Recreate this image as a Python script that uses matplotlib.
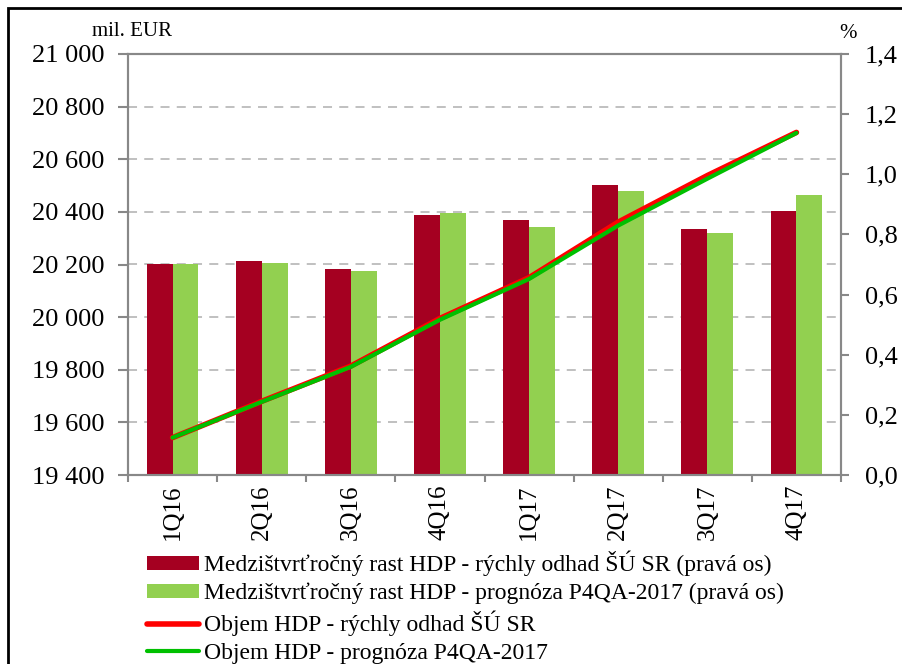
import numpy as np
import matplotlib.pyplot as plt
from matplotlib.patches import Rectangle

plt.rcParams['font.family'] = ['Liberation Serif', 'DejaVu Serif']

# --- data ---
quarters = ['1Q16', '2Q16', '3Q16', '4Q16', '1Q17', '2Q17', '3Q17', '4Q17']
growth_flash = [0.70, 0.71, 0.685, 0.865, 0.848, 0.964, 0.817, 0.878]     # % (right axis)
growth_forecast = [0.70, 0.705, 0.68, 0.872, 0.824, 0.944, 0.806, 0.930]  # % (right axis)
gdp_flash = [19542, 19680, 19814, 19995, 20150, 20361, 20538, 20702]      # mil. EUR
gdp_forecast = [19542, 19678, 19811, 19990, 20145, 20348, 20526, 20700]   # mil. EUR

dark_red = '#A50021'
light_green = '#92D050'
line_red = '#FF0000'
line_green = '#00C000'
spine_grey = '#888888'

fig = plt.figure(figsize=(9.02, 6.64), dpi=100)
W, H = 902, 664
ax = fig.add_axes([128 / W, (H - 475) / H, (841 - 128) / W, (475 - 54) / H])
ax2 = ax.twinx()
ax.set_zorder(2)
ax2.set_zorder(1)
ax.patch.set_visible(False)

x = np.arange(len(quarters))
bw = 0.29

# --- bars on right axis ---
b1 = ax2.bar(x - bw / 2, growth_flash, width=bw, color=dark_red, zorder=2,
             label='Medzištvrťročný rast HDP - rýchly odhad ŠÚ SR (pravá os)')
b2 = ax2.bar(x + bw / 2, growth_forecast, width=bw, color=light_green, zorder=2,
             label='Medzištvrťročný rast HDP - prognóza P4QA-2017 (pravá os)')
rt = np.arange(0, 1.41, 0.2)
ax2.set_ylim(0, 1.4)
ax2.set_yticks(rt)
ax2.set_yticklabels([f'{v:.1f}'.replace('.', ',') for v in rt])

# --- lines on left axis ---
l1, = ax.plot(x, gdp_flash, color=line_red, linewidth=4, solid_capstyle='round',
              label='Objem HDP - rýchly odhad ŠÚ SR')
l2, = ax.plot(x, gdp_forecast, color=line_green, linewidth=3, solid_capstyle='round',
              label='Objem HDP - prognóza P4QA-2017')
ax.set_ylim(19400, 21000)
yt = np.arange(19400, 21001, 200)
ax.set_yticks(yt)
ax.set_yticklabels([f'{v // 1000} {v % 1000:03d}' for v in yt])

# gridlines follow the left axis but sit behind the bars
for v in yt[1:-1]:
    ax2.plot([0, 1], [v, v], transform=ax.get_yaxis_transform(), color='#BBBBBB',
             linestyle=(0, (5, 4)), linewidth=1.3, zorder=1)

ax.set_xlim(-0.5, len(quarters) - 0.5)
ax.set_xticks(x)
ax.set_xticklabels(quarters, rotation=90)
ax.set_xticks(np.arange(-0.5, len(quarters)), minor=True)
ax.tick_params(axis='x', which='major', length=0, pad=7, labelsize=18)
ax.tick_params(axis='x', which='minor', length=5, width=1.5, color=spine_grey)
ax.tick_params(axis='y', length=7, width=1.5, color=spine_grey, labelsize=19, pad=10)
ax2.tick_params(axis='y', length=6, width=1.5, color=spine_grey, labelsize=19, pad=11)

for a in (ax, ax2):
    for s in a.spines.values():
        s.set_color(spine_grey)
        s.set_linewidth(1.5)

fig.text(92 / W, 1 - 32 / H, 'mil. EUR', fontsize=15, va='center', ha='left')
fig.text(848 / W, 1 - 33 / H, '%', fontsize=15, va='center', ha='center')

fig.legend(handles=[b1, b2, l1, l2], loc='upper left',
           bbox_to_anchor=(147 / W, 1 - 551 / H), frameon=False,
           fontsize=17, handlelength=2.2, handleheight=0.5, handletextpad=0.2,
           labelspacing=0.27, borderaxespad=0, borderpad=0)

# outer frame (cut off at right and bottom like the source image)
fig.add_artist(Rectangle((8 / W, -0.05), 1.1, 1 - 8 / H + 0.05,
                         transform=fig.transFigure, fill=False,
                         edgecolor='black', linewidth=2))

fig.savefig('out.png', dpi=100)
